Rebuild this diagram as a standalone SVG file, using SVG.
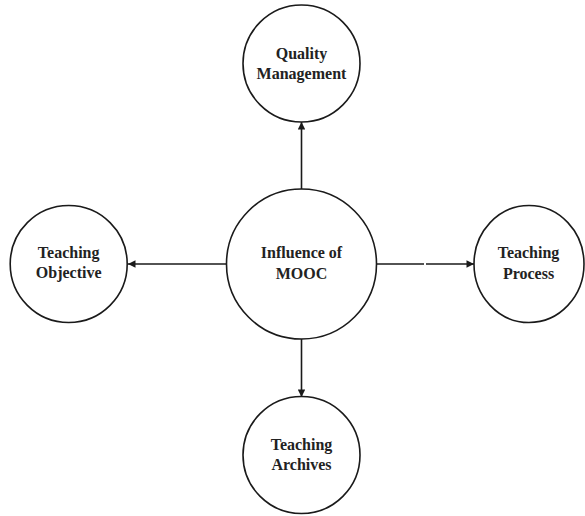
<svg xmlns="http://www.w3.org/2000/svg" width="585" height="516" viewBox="0 0 585 516">
  <style>
    .node { fill: #ffffff; stroke: #1a1a1a; stroke-width: 1.6; }
    .label { font-family: "Liberation Serif", "Times New Roman", serif; font-weight: bold; font-size: 16px; fill: #222222; text-anchor: middle; }
    .link { stroke: #1a1a1a; stroke-width: 1.6; fill: none; }
  </style>
  <defs>
    <marker id="arrow" viewBox="0 0 10 10" refX="10" refY="5" markerWidth="8" markerHeight="7.5" markerUnits="userSpaceOnUse" orient="auto">
      <path d="M0,0 L10,5 L0,10 Z" fill="#1a1a1a"/>
    </marker>
  </defs>
  <rect width="585" height="516" fill="#ffffff"/>

  <g id="connectors">
    <line class="link" x1="301.5" y1="189" x2="301.5" y2="122" marker-end="url(#arrow)"/>
    <line class="link" x1="226.5" y1="264" x2="128" y2="264" marker-end="url(#arrow)"/>
    <line class="link" x1="376.5" y1="264" x2="424" y2="264"/>
    <line class="link" x1="426" y1="264" x2="474" y2="264" marker-end="url(#arrow)"/>
    <line class="link" x1="301.5" y1="339" x2="301.5" y2="397" marker-end="url(#arrow)"/>
  </g>

  <g id="influence-of-mooc">
    <circle class="node" cx="301.5" cy="264" r="75"/>
    <text class="label" x="301.5" y="258">Influence of</text>
    <text class="label" x="301.5" y="279">MOOC</text>
  </g>

  <g id="quality-management">
    <circle class="node" cx="301.5" cy="63.5" r="58.5"/>
    <text class="label" x="301.5" y="59">Quality</text>
    <text class="label" x="301.5" y="79">Management</text>
  </g>

  <g id="teaching-objective">
    <circle class="node" cx="68.7" cy="264" r="58.5"/>
    <text class="label" x="68.7" y="258">Teaching</text>
    <text class="label" x="68.7" y="278">Objective</text>
  </g>

  <g id="teaching-process">
    <ellipse class="node" cx="529" cy="264" rx="55" ry="58.5"/>
    <text class="label" x="528.5" y="258">Teaching</text>
    <text class="label" x="528.5" y="279">Process</text>
  </g>

  <g id="teaching-archives">
    <circle class="node" cx="301.5" cy="455" r="58.5"/>
    <text class="label" x="301.5" y="450">Teaching</text>
    <text class="label" x="301.5" y="470">Archives</text>
  </g>
</svg>
